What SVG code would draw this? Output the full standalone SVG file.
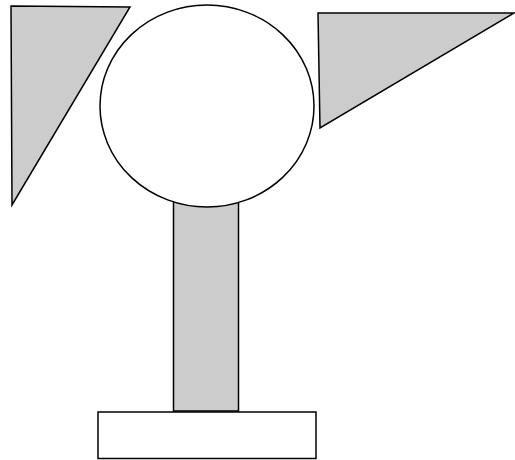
<svg xmlns="http://www.w3.org/2000/svg" width="515" height="460" viewBox="0 0 515 460">
<style>
.s{stroke:#000;stroke-width:1.5;stroke-linejoin:miter}
.g{fill:#cccccc}
.w{fill:#ffffff}
</style>
<rect width="515" height="460" fill="#fff"/>
<g id="left-wing"><polygon class="s g" points="11,6 130,7 12,205"/></g>
<g id="right-wing"><polygon class="s g" points="318,13 514,13 320,128"/></g>
<g id="stem"><rect class="s g" x="173.5" y="180" width="65" height="231"/></g>
<g id="head"><ellipse class="s w" cx="207" cy="106" rx="107" ry="101"/></g>
<g id="base"><rect class="s w" x="98" y="412" width="218" height="46.5"/></g>
</svg>
